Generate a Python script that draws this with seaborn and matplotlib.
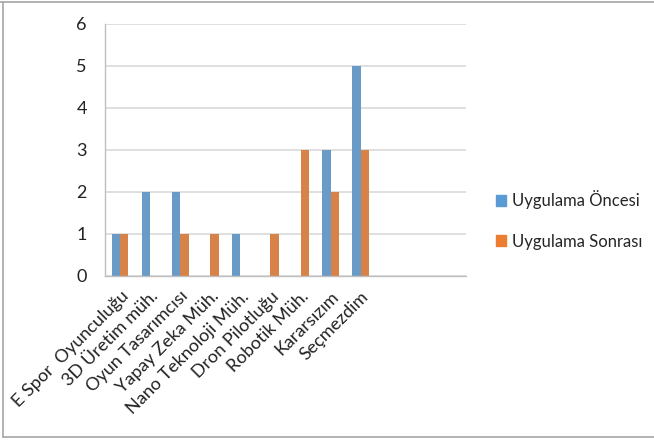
import matplotlib
matplotlib.use("Agg")
import matplotlib.pyplot as plt
import seaborn as sns
import pandas as pd
import numpy as np
from matplotlib.lines import Line2D

categories = ["E Spor  Oyunculuğu", "3D Üretim müh.", "Oyun Tasarımcısı", "Yapay Zeka Müh.",
              "Nano Teknoloji Müh.", "Dron Pilotluğu", "Robotik Müh.", "Kararsızım", "Seçmezdim",
              " ", "  ", "   "]
oncesi = [1, 2, 2, 0, 1, 0, 0, 3, 5, 0, 0, 0]
sonrasi = [1, 0, 1, 1, 0, 1, 3, 2, 3, 0, 0, 0]
series = ["Uygulama Öncesi", "Uygulama Sonrası"]
colors = ["#5B9BD5", "#ED7D31"]

rows = []
for c, a, b in zip(categories, oncesi, sonrasi):
    rows.append((c, series[0], a))
    rows.append((c, series[1], b))
df = pd.DataFrame(rows, columns=["kategori", "seri", "deger"])

sns.set_style("white")
plt.rcParams["font.family"] = ["Lato", "DejaVu Sans"]

fig = plt.figure(figsize=(6.54, 4.43), dpi=100)
ax = fig.add_axes([105/654, 1 - 275.6/443, (466 - 105)/654, (275.6 - 24)/443])

sns.barplot(data=df, x="kategori", y="deger", hue="seri", order=categories,
            hue_order=series, palette=colors, width=0.555, linewidth=0,
            errorbar=None, ax=ax, legend=False)

ax.set_ylim(0, 6)
ax.set_xlim(-0.5, len(categories) - 0.5)
ax.set_yticks(range(0, 7))
ax.set_yticklabels([str(i) for i in range(0, 7)], fontsize=13, color="#222222")
ax.yaxis.grid(True, color="#D9D9D9", linewidth=1.2)
ax.set_axisbelow(True)
ax.set_xlabel("")
ax.set_ylabel("")

ax.set_xticks(range(len(categories)))
ax.set_xticklabels(categories, rotation=45, ha="right", va="top",
                   rotation_mode="anchor", fontsize=13, color="#222222")
ax.tick_params(axis="x", which="major", length=0, pad=9)
ax.set_xticks(np.arange(-0.5, len(categories), 1.0), minor=True)
ax.tick_params(axis="x", which="minor", length=5, color="#BFBFBF", width=1, direction="out")
ax.tick_params(axis="y", length=5, color="#BFBFBF", width=1, direction="out", pad=8)

for s in ["top", "right"]:
    ax.spines[s].set_visible(False)
for s in ["left", "bottom"]:
    ax.spines[s].set_color("#BFBFBF")
    ax.spines[s].set_linewidth(1)

handles = [plt.Rectangle((0, 0), 1, 1, color=c) for c in colors]
fig.legend(handles, series, loc="center left", bbox_to_anchor=(496/654, 1 - 220/443),
           frameon=False, fontsize=12, handlelength=0.6, handleheight=0.6,
           handletextpad=0.35, labelspacing=1.45, borderpad=0, borderaxespad=0)

# chart area frame
W, H = 654, 443
fc = "#A6A6A6"
fig.add_artist(Line2D([0, 1], [1 - 2/H, 1 - 2/H], color=fc, linewidth=1.2, transform=fig.transFigure))
fig.add_artist(Line2D([3/W, 3/W], [1 - 2/H, 1 - 437/H], color=fc, linewidth=1.2, transform=fig.transFigure))
fig.add_artist(Line2D([3/W, 1], [1 - 437/H, 1 - 437/H], color=fc, linewidth=1.2, transform=fig.transFigure))

fig.savefig("out.png", dpi=100)
